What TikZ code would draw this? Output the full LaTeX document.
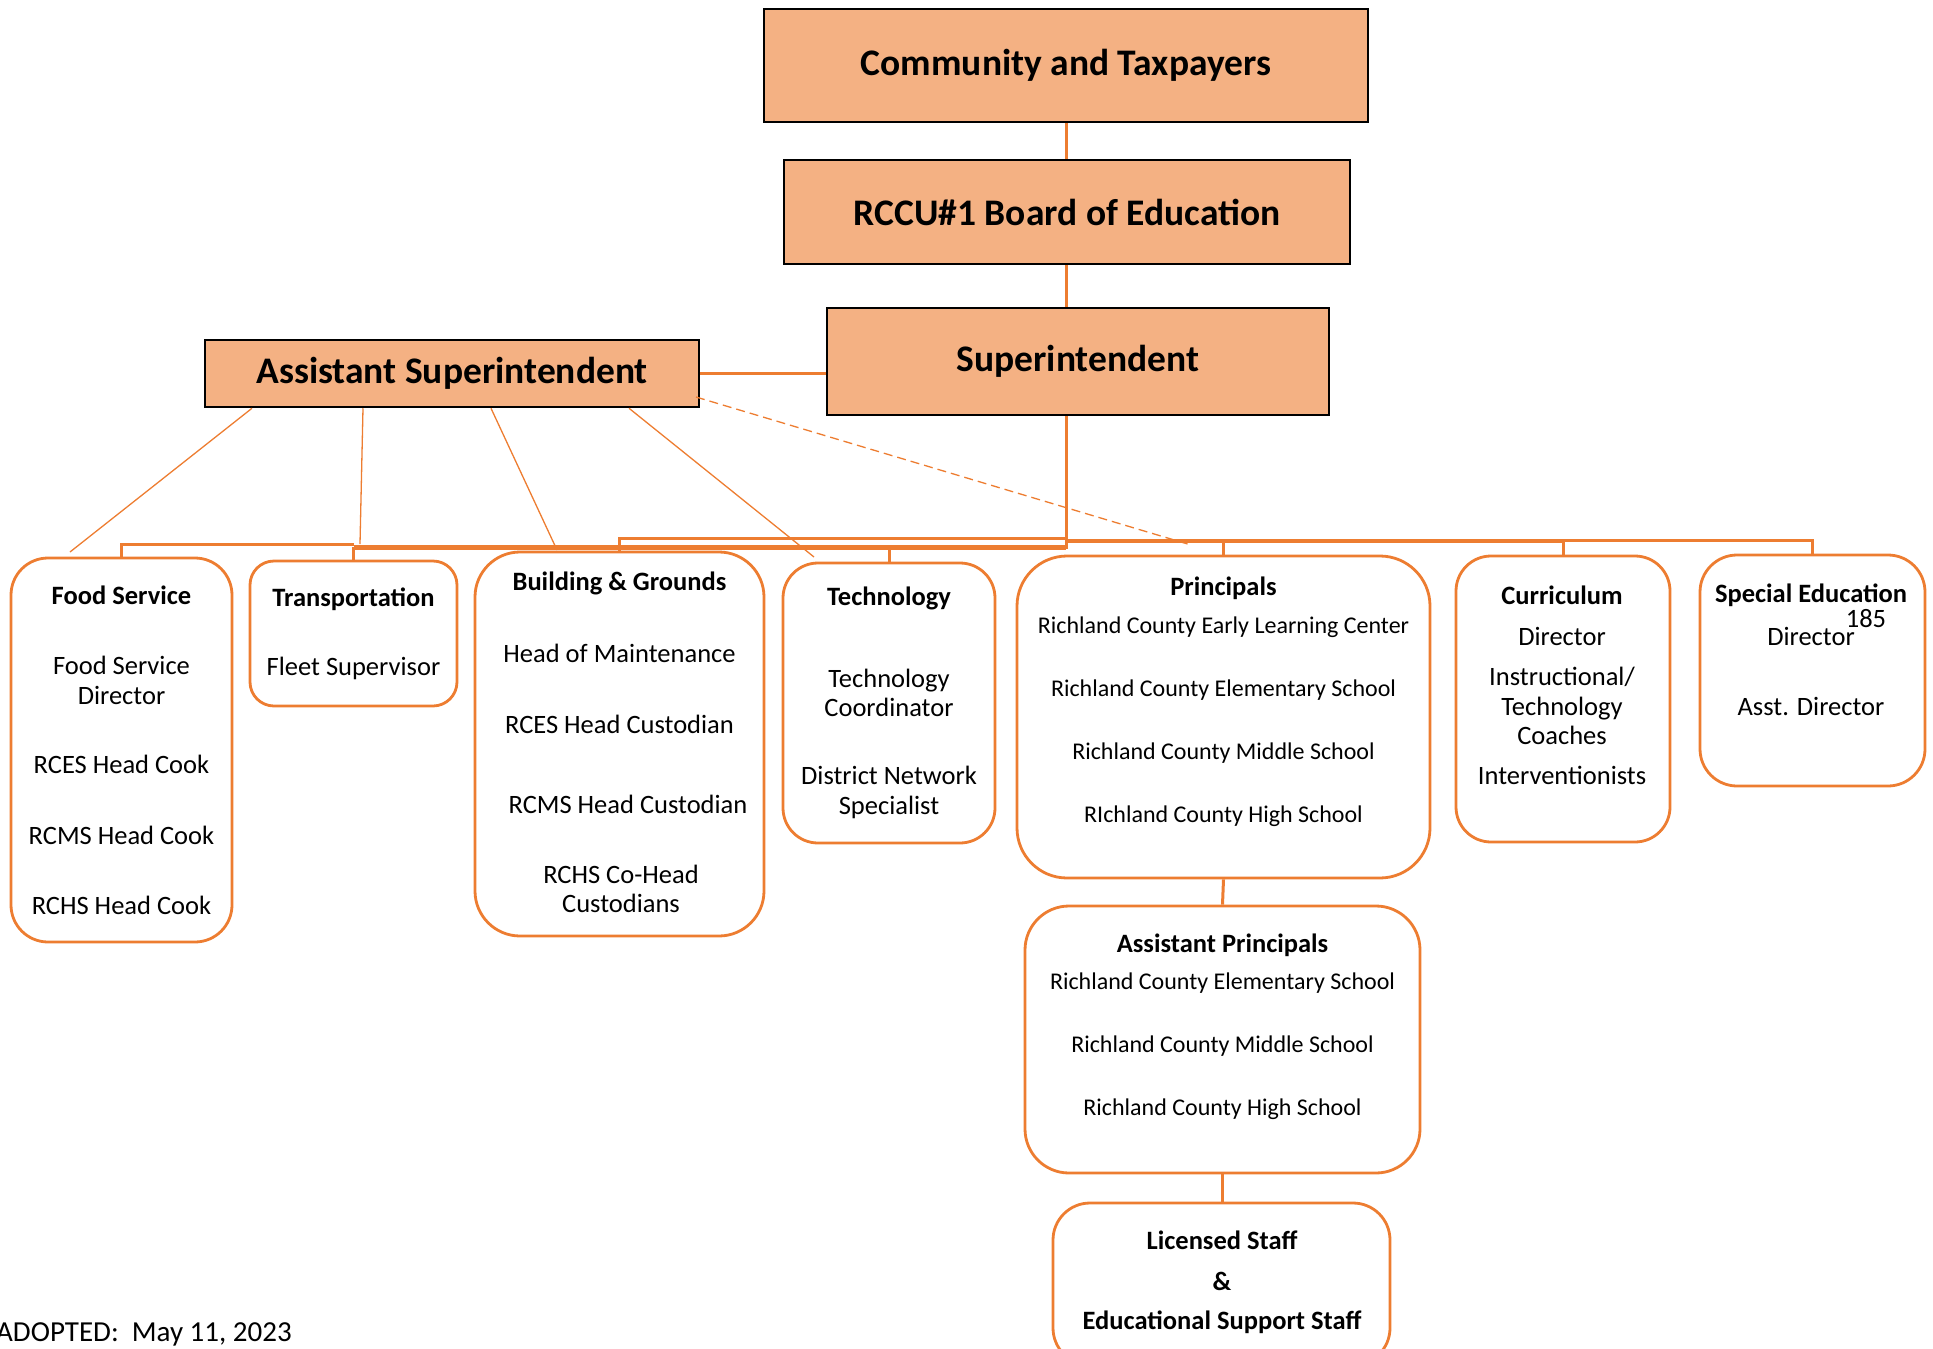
\documentclass[tikz,border=0pt]{standalone}
\usepackage{fontspec}
\setmainfont{Carlito}
\definecolor{boxfill}{HTML}{F4B183}
\definecolor{lorange}{HTML}{ED7D31}
\begin{document}
\begin{tikzpicture}[x=1pt,y=-1pt,
  topbox/.style={draw=black, line width=2.5pt, fill=boxfill, inner sep=0pt, font=\bfseries\fontsize{37.5}{42}\selectfont},
  rbox/.style={draw=lorange, line width=2.8pt, inner sep=0pt, fill=white},
  hd/.style={font=\bfseries\fontsize{26.5}{40}\selectfont, inner sep=0pt, align=center},
  bd/.style={font=\fontsize{26.5}{29.5}\selectfont, inner sep=0pt, align=center},
  sm/.style={font=\fontsize{24}{28}\selectfont, inner sep=0pt},
  conn/.style={draw=lorange, line width=3pt},
  bus/.style={draw=lorange, line width=5pt},
  thinline/.style={draw=lorange, line width=1.3pt},
]
\useasboundingbox (0,0) rectangle (1933,1349);
\clip (0,0) rectangle (1933,1349);

% top boxes
\node[topbox, minimum width=604pt, minimum height=113pt] (comm) at (1066,65.5) {Community and Taxpayers};
\node[topbox, minimum width=566pt, minimum height=104pt] (board) at (1067,212) {RCCU\#1 Board of Education};
\node[topbox, minimum width=502pt, minimum height=107pt] (supt) at (1078,361.5) {Superintendent};
\node[topbox, minimum width=494pt, minimum height=67pt] (asst) at (452,373.5) {Assistant Superintendent};

% rounded boxes
\node[rbox, rounded corners=37pt, minimum width=221pt, minimum height=384pt] (food) at (121.5,750) {};
\node[rbox, rounded corners=24pt, minimum width=207pt, minimum height=145pt] (trans) at (353.5,633.5) {};
\node[rbox, rounded corners=45pt, minimum width=289pt, minimum height=384pt] (bg) at (619.5,744) {};
\node[rbox, rounded corners=35pt, minimum width=212pt, minimum height=280pt] (tech) at (889,703) {};
\node[rbox, rounded corners=50pt, minimum width=413pt, minimum height=322pt] (prin) at (1223.5,717) {};
\node[rbox, rounded corners=35pt, minimum width=214pt, minimum height=286pt] (curr) at (1563,699) {};
\node[rbox, rounded corners=37pt, minimum width=225pt, minimum height=231pt] (sped) at (1812.5,670.5) {};
\node[rbox, rounded corners=44pt, minimum width=395pt, minimum height=267pt] (ap) at (1222.5,1039.5) {};
\node[rbox, rounded corners=37pt, minimum width=337pt, minimum height=162pt] (lic) at (1221.5,1284) {};

% connectors top
\draw[conn] (comm.south) -- (comm.south |- board.north);
\draw[conn] (comm.south |- board.south) -- (comm.south |- supt.north);
\draw[conn] (asst.east) -- (asst.east -| supt.west);
\coordinate (hub) at (comm.south |- 0,547);
\draw[conn] (comm.south |- supt.south) -- ([yshift=-2pt]hub);

% buses
\draw[bus] (hub) -- (trans.north |- hub);
\draw[conn] (trans.north |- 0,544) -- (food.north |- 0,544) -- (food.north);
\draw[conn] (trans.north |- hub) -- (trans.north);
\draw[conn] (hub |- 0,538) -- (bg.north |- 0,538) -- (bg.north);
\draw[conn] (tech.north |- hub) -- (tech.north);
\draw[draw=lorange, line width=4.5pt] (hub |- 0,541) -- (curr.north |- 0,541);
\draw[conn] (curr.north |- 0,540.5) -- (sped.north |- 0,540.5) -- (sped.north);
\draw[conn] (prin.north |- 0,541) -- (prin.north);
\draw[conn] (curr.north |- 0,541) -- (curr.north);
\draw[conn] (prin.south) -- (ap.north);
\draw[conn] (ap.south) -- (ap.south |- lic.north);

% assistant superintendent lines
\coordinate (e1) at (70,552);
\coordinate (e2) at (360,544);
\coordinate (e3) at (557,550);
\coordinate (e4) at (814,557);
\coordinate (e5) at (1191,545);
\draw[thinline] (asst.south -| 252,0) -- (e1);
\draw[thinline] (asst.south -| 363,0) -- (e2);
\draw[thinline] (asst.south -| 491,0) -- (e3);
\draw[thinline] (asst.south -| 629,0) -- (e4);
\draw[thinline, dash pattern=on 9pt off 5pt] (696,397) -- (e5);

% Food Service
\node[hd] (f0) at (121.5,595) {Food Service};
\node[bd] (f1) at (121.5,680.5) {Food Service\\Director};
\node[bd] (f2) at (121.5,764) {RCES Head Cook};
\node[bd] (f3) at (121.5,835) {RCMS Head Cook};
\node[bd] (f4) at (121.5,905) {RCHS Head Cook};

% Transportation
\node[hd] (tr0) at (353.5,599) {Transportation};
\node[bd] (tr1) at (353.5,668) {Fleet Supervisor};

% Building & Grounds
\node[hd] (b0) at (619.5,583) {Building \& Grounds};
\node[bd] (b1) at (619.5,653) {Head of Maintenance};
\node[bd] (b2) at (619.5,724) {RCES Head Custodian};
\node[bd] (b3) at (628,804) {RCMS Head Custodian};
\node[bd] (b4) at (621,889) {RCHS Co-Head\\Custodians};

% Technology
\node[hd] (te0) at (889,598) {Technology};
\node[bd] (te1) at (889,693) {Technology\\Coordinator};
\node[bd] (te2) at (889,792.5) {District Network\\Specialist};

% Principals
\node[hd] (p0) at (1223.5,588) {Principals};
\node[sm] (p1) at (1223.5,627.5) {Richland County Early Learning Center};
\node[sm] (p2) at (1223.5,690) {Richland County Elementary School};
\node[sm] (p3) at (1223.5,753) {Richland County Middle School};
\node[sm] (p4) at (1223.5,816) {RIchland County High School};

% Curriculum
\node[hd] (c0) at (1562,595) {Curriculum};
\node[bd] (c1) at (1562,636) {Director};
\node[bd] (c2) at (1562,706) {Instructional/\\Technology\\Coaches};
\node[bd] (c3) at (1562,775) {Interventionists};

% Special Education
\node[hd] (s0) at (1811,595) {Special Education};
\node[bd] (s1) at (1811,636) {Director};
\node[bd] (s2) at (1866,619) {185};
\node[bd] (s3) at (1811,706) {Asst. Director};

% Assistant Principals
\node[hd] (a0) at (1222.5,945) {Assistant Principals};
\node[sm] (a1) at (1222.5,983) {Richland County Elementary School};
\node[sm] (a2) at (1222.5,1046) {Richland County Middle School};
\node[sm] (a3) at (1222.5,1109) {Richland County High School};

% Licensed staff
\node[hd] (l0) at (1222,1240) {Licensed Staff};
\node[hd] (l1) at (1222,1281) {\&};
\node[hd] (l2) at (1222,1322) {Educational Support Staff};

% adopted
\node[font=\fontsize{29}{33}\selectfont, inner sep=0pt, anchor=west] (adopted) at (-4,1334) {ADOPTED:\ \ May 11, 2023};
\end{tikzpicture}
\end{document}
